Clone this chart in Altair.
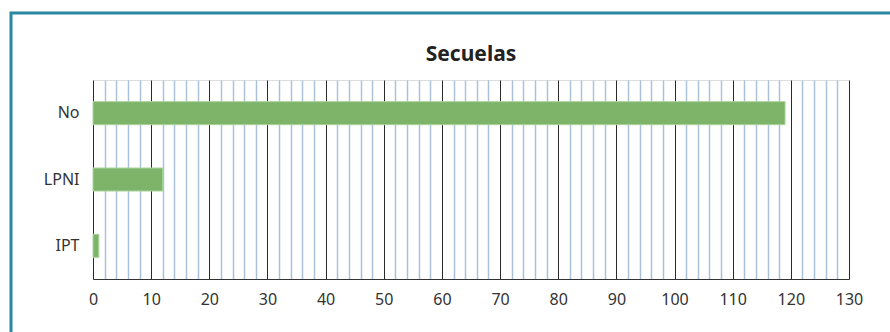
import altair as alt
import pandas as pd

categories = ["No", "LPNI", "IPT"]
values = [119, 12, 1]
major_ticks = list(range(0, 131, 10))
minor_ticks = [v for v in range(0, 131, 2) if v % 10 != 0]
title_text = "Secuelas"

df = pd.DataFrame({"cat": categories, "val": values})

FONT = "Noto Sans"
xscale = alt.Scale(domain=[0, 130], nice=False, zero=True)

bars = alt.Chart(df).mark_bar(size=23, color="#7db46a", stroke="#a9d39a", strokeWidth=1).encode(
    y=alt.Y("cat:N", sort=categories, title=None,
            axis=alt.Axis(labelFontSize=16, labelColor="#333333", labelFont=FONT,
                          ticks=False, domain=False, labelPadding=14, grid=False)),
    x=alt.X("val:Q", scale=xscale, title=None,
            axis=alt.Axis(values=major_ticks, grid=True, gridColor="#2a2a2a", gridWidth=1,
                          labelFontSize=16, labelColor="#333333", labelFont=FONT,
                          labelFlush=False, ticks=False, domain=True, domainColor="#333333",
                          labelPadding=12, format="d")),
)

minor = alt.Chart(df).mark_point(opacity=0).encode(
    x=alt.X("val:Q", scale=xscale, title=None,
            axis=alt.Axis(values=minor_ticks, grid=True, gridColor="#a9c1d9", gridWidth=1.5,
                          labels=False, ticks=False, domain=False, orient="top")),
)

frame = alt.Chart(df).mark_rect(fill=None, stroke="#2a88a0", strokeWidth=3, clip=False).encode(
    x=alt.value(-82), x2=alt.value(830), y=alt.value(-67), y2=alt.value(270)
).transform_filter(alt.datum.cat == "No")

title = alt.Chart(df).mark_text(
    text=title_text, fontSize=21, fontWeight="bold", font=FONT, color="#222222",
    align="center", baseline="middle", clip=False
).encode(x=alt.value(378), y=alt.value(-25)).transform_filter(alt.datum.cat == "No")

chart = alt.layer(minor, bars, frame, title).resolve_axis(x="independent").properties(
    width=756, height=199,
    autosize=alt.AutoSizeParams(type="none"),
    padding={"left": 93, "top": 80, "right": 41, "bottom": 53},
).configure_view(stroke="#222222", strokeWidth=1).configure(background="white")

chart.save("out.html", embed_options={"renderer": "svg", "actions": False})
